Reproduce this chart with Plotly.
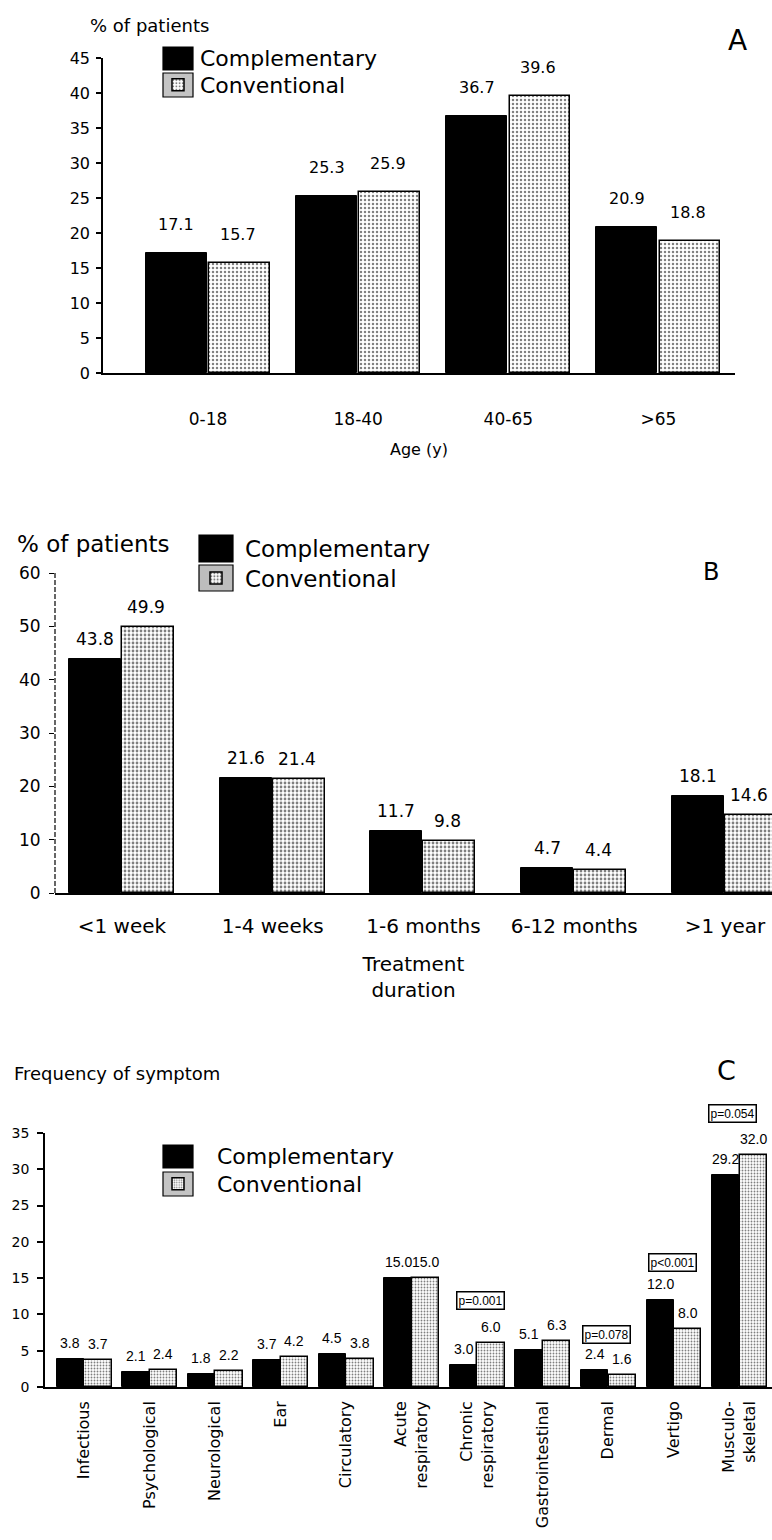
import plotly.graph_objects as go

W, H = 772, 1540
FONT = "DejaVu Sans"
NARROW = "Liberation Sans"

# ---------------- data ----------------
age_groups = ["0-18", "18-40", "40-65", ">65"]
age_comp = [17.1, 25.3, 36.7, 20.9]
age_conv = [15.7, 25.9, 39.6, 18.8]

dur_groups = ["<1 week", "1-4 weeks", "1-6 months", "6-12 months", ">1 year"]
dur_comp = [43.8, 21.6, 11.7, 4.7, 18.1]
dur_conv = [49.9, 21.4, 9.8, 4.4, 14.6]

symptoms = ["Infectious", "Psychological", "Neurological", "Ear", "Circulatory",
            "Acute<br>respiratory", "Chronic<br>respiratory", "Gastrointestinal",
            "Dermal", "Vertigo", "Musculo-<br>skeletal"]
sym_comp = [3.8, 2.1, 1.8, 3.7, 4.5, 15.0, 3.0, 5.1, 2.4, 12.0, 29.2]
sym_conv = [3.7, 2.4, 2.2, 4.2, 3.8, 15.0, 6.0, 6.3, 1.6, 8.0, 32.0]
sym_p = ["", "", "", "", "", "", "p=0.001", "", "p=0.078", "p<0.001", "p=0.054"]

series_names = ["Complementary", "Conventional"]


def py(p):
    return 1 - p / H


def pxx(p):
    return p / W


fig = go.Figure()

# panel geometry (layout constants, pixels)
panels = [
    dict(cats=age_groups, comp=age_comp, conv=age_conv, xa="x", ya="y",
         legs=("legend", "legend2"), width=0.405, off=(-0.413, 0.008), ppc=150.1,
         pat=dict(size=4, solidity=0.3), lab_font=(FONT, 16), lab_shift=17, lab_dx=(0, -2)),
    dict(cats=dur_groups, comp=dur_comp, conv=dur_conv, xa="x2", ya="y2",
         legs=("legend3", "legend4"), width=0.345, off=(-0.352, 0.0), ppc=150.76,
         pat=dict(size=4, solidity=0.38), lab_font=(FONT, 17), lab_shift=8, lab_dx=(0, -2)),
    dict(cats=symptoms, comp=sym_comp, conv=sym_conv, xa="x3", ya="y3",
         legs=("legend5", "legend6"), width=0.415, off=(-0.415, 0.005), ppc=65.52,
         pat=dict(size=3, solidity=0.3), lab_font=(NARROW, 14), lab_shift=6, lab_dx=(0, 0)),
]

annotations = []
for p in panels:
    for i, (vals, name) in enumerate([(p["comp"], series_names[0]), (p["conv"], series_names[1])]):
        if i == 0:
            marker = dict(color="black", line=dict(color="black", width=1))
        else:
            marker = dict(color="white",
                          pattern=dict(shape=".", fgcolor="black", bgcolor="white",
                                       size=p["pat"]["size"], solidity=p["pat"]["solidity"]),
                          line=dict(color="black", width=1.5))
        fig.add_trace(go.Bar(x=p["cats"], y=vals, name=name, xaxis=p["xa"], yaxis=p["ya"],
                             legend=p["legs"][i], width=p["width"], offset=p["off"][i],
                             marker=marker, hoverinfo="x+y"))
        shift = (p["off"][i] + p["width"] / 2) * p["ppc"] + p["lab_dx"][i]
        for c, v in zip(p["cats"], vals):
            annotations.append(dict(x=c, y=v, xref=p["xa"], yref=p["ya"], text=f"{v:.1f}",
                                    showarrow=False, xanchor="center", yanchor="bottom",
                                    xshift=shift, yshift=p["lab_shift"],
                                    font=dict(family=p["lab_font"][0], size=p["lab_font"][1],
                                              color="black")))

# p-value boxes (panel C): pixel offsets above the taller bar of the pair
p_shift = {"p=0.001": (3, 33), "p=0.078": (-2, 26), "p<0.001": (-1, 28), "p=0.054": (-7, 32)}
for c, a, b, t in zip(symptoms, sym_comp, sym_conv, sym_p):
    if t:
        xs, ys = p_shift[t]
        annotations.append(dict(x=c, y=max(a, b), xref="x3", yref="y3", text=t, showarrow=False,
                                xanchor="center", yanchor="bottom", xshift=xs, yshift=ys,
                                bordercolor="black", borderwidth=1.5, borderpad=1, bgcolor="white",
                                font=dict(family=NARROW, size=12, color="black")))


def txt(text, x, y, size, xanchor="left", family=FONT):
    annotations.append(dict(text=text, x=pxx(x), y=py(y), xref="paper", yref="paper",
                            xanchor=xanchor, yanchor="middle", showarrow=False,
                            font=dict(family=family, size=size, color="black")))


txt("% of patients", 88, 25, 18)
txt("A", 737, 40, 28, "center")
txt("% of patients", 15, 544, 23)
txt("B", 711, 572, 24, "center")
txt("Frequency of symptom", 12, 1073, 18)
txt("C", 726, 1070, 27, "center")


def leg(text_x, sym_cx, row_y, size):
    # plotly legend: text starts at L + 10 + itemwidth, symbol centre at L + 5 + itemwidth/2
    iw = max(30, 2 * (text_x - sym_cx - 5))
    L = text_x - 10 - iw
    return dict(x=pxx(L), y=py(row_y), xanchor="left", yanchor="middle",
                bgcolor="rgba(0,0,0,0)", borderwidth=0, itemwidth=iw,
                font=dict(family=FONT, size=size, color="black"), tracegroupgap=0)


legend_rows = {
    "legend": leg(200, 178, 58, 22), "legend2": leg(200, 178, 85, 22),
    "legend3": leg(245, 216, 548, 23), "legend4": leg(245, 216, 578, 23),
    "legend5": leg(217, 178, 1156, 22), "legend6": leg(217, 178, 1184, 22),
}

# large legend swatches like the reference (paper pixel boxes)
swatches = [
    (163, 193, 47, 70, "black"), (163, 193, 73, 97, "#c4c4c4"),
    (199, 233, 535, 562, "black"), (199, 233, 565, 591, "#bdbdbd"),
    (163, 193, 1145, 1168, "black"), (163, 193, 1172, 1196, "#c4c4c4"),
]
shapes = []
for x0, x1, y0, y1, col in swatches:
    shapes.append(dict(type="rect", xref="paper", yref="paper", x0=pxx(x0), x1=pxx(x1),
                       y0=py(y1), y1=py(y0), fillcolor=col, layer="above",
                       line=dict(color="black", width=1.2)))
shapes.append(dict(type="line", xref="x2 domain", yref="y2", x0=0, x1=0, y0=0, y1=60,
                   line=dict(color="black", width=1.2, dash="5px,2px")))

axis_common = dict(showgrid=False, zeroline=False, showline=True, linecolor="black",
                   linewidth=1.5, color="black", automargin=False, fixedrange=True)

fig.update_layout(
    width=W, height=H, autosize=False,
    margin=dict(l=0, r=0, t=0, b=0),
    paper_bgcolor="white", plot_bgcolor="white",
    barmode="group", bargap=0, bargroupgap=0,
    font=dict(family=FONT, color="black"),
    showlegend=True,
    annotations=annotations,
    shapes=shapes,
    # panel A
    xaxis=dict(axis_common, domain=[pxx(103), pxx(735)], anchor="y", type="category",
               range=[-0.7, 3.51], ticks="", ticklabelstandoff=30,
               tickfont=dict(size=17),
               title=dict(text="Age (y)", font=dict(size=16), standoff=16)),
    yaxis=dict(axis_common, domain=[py(373), py(58)], anchor="x", range=[0, 45], dtick=5,
               ticks="outside", ticklen=5, tickwidth=1.5, tickfont=dict(size=16),
               ticklabelstandoff=3),
    # panel B
    xaxis2=dict(axis_common, domain=[pxx(55), 1.0], anchor="y2", type="category",
                range=[-0.444, 4.312], ticks="", ticklabelstandoff=14,
                tickfont=dict(size=20),
                title=dict(text="Treatment<br>duration", font=dict(size=20), standoff=20)),
    yaxis2=dict(axis_common, domain=[py(893), py(573)], anchor="x2", range=[0, 60], dtick=10,
                ticks="outside", ticklen=5, tickwidth=1, tickfont=dict(size=17),
                ticklabelstandoff=5, showline=False),
    # panel C
    xaxis3=dict(axis_common, domain=[pxx(45), 1.0], anchor="y3", type="category",
                range=[-0.595, 10.5], ticks="", tickangle=-90, ticklabelstandoff=6,
                tickfont=dict(size=16)),
    yaxis3=dict(axis_common, domain=[py(1387), py(1133)], anchor="x3", range=[0, 35], dtick=5,
                ticks="outside", ticklen=6, tickwidth=1.5, tickfont=dict(size=14),
                ticklabelstandoff=5),
    **legend_rows,
)

fig.write_html("out.html", config={"displayModeBar": False},
               post_script="document.body.style.margin='0';document.body.style.overflow='hidden';")
